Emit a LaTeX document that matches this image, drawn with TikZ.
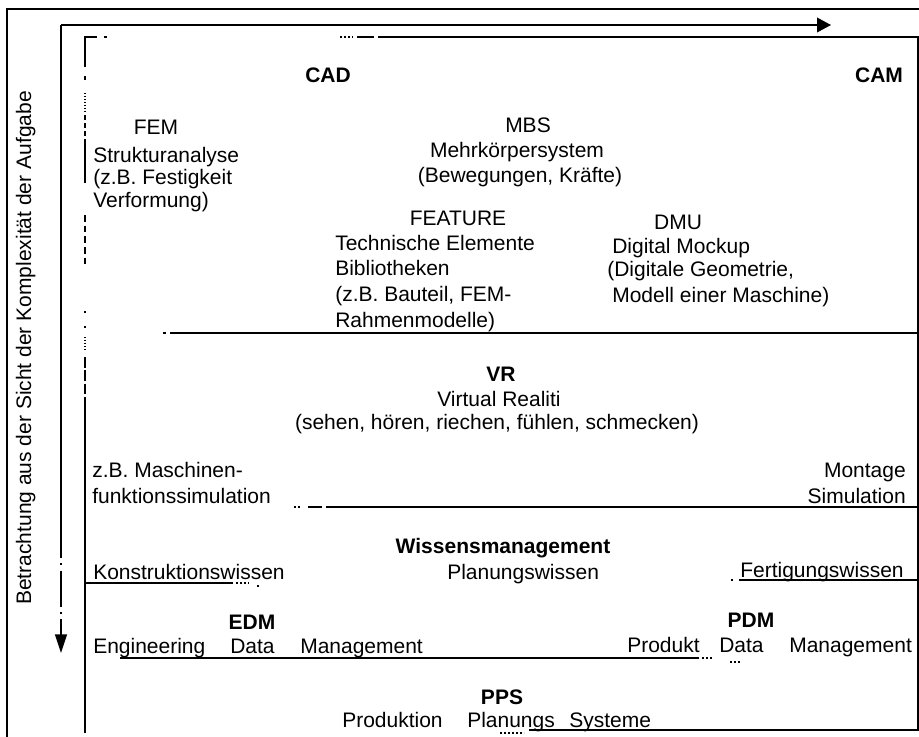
\documentclass[tikz,border=0pt]{standalone}
\usepackage{fontspec}
\setmainfont{Liberation Sans}
\usetikzlibrary{arrows.meta}
\begin{document}
\begin{tikzpicture}[x=0.75pt,y=-0.75pt,
  txt/.style={inner sep=0pt, font=\fontsize{15.75}{18}\selectfont},
  bt/.style={inner sep=0pt, font=\fontsize{15.75}{18}\selectfont\bfseries},
  ln/.style={line width=1.1pt, line cap=butt},
  speck/.style={line width=1.1pt, dash pattern=on 1.2pt off 1.8pt},
  dashdotline/.style={line width=1.1pt, dash pattern=on 27pt off 4pt on 1.5pt off 4pt}]
\useasboundingbox (0,0) rectangle (919,736);
\fill[white] (0,0) rectangle (919,736);

% outer frame
\draw[ln] (920,9) -- (7,9) -- (7,737);

% axis arrows
\coordinate (O) at (61,25);
\coordinate (Xend) at (831,25);
\coordinate (Ybreak) at (61,522);
\coordinate (Yend) at (61,653);
\draw[ln, -{Triangle[length=10.5pt,width=11pt]}] (O) -- (Xend);
\draw[ln] (O) -- (Ybreak);
\draw[dashdotline, -{Triangle[length=14pt,width=9pt]}] (Ybreak) -- (Yend);

% inner frame: top edge
\draw[ln] (85,50) -- (85,37) -- (97,37);
\draw[ln] (104,37) -- (107,37);
\draw[speck] (340,37) -- (353,37);
\draw[ln] (357,37) -- (374,37);
\draw[ln] (378,37) -- (918,37) -- (918,730) -- (529,730);
\draw[speck] (500,733) -- (524,733);
% inner frame: left edge
\draw[ln] (85,50) -- (85,67);
\draw[ln] (85,76) -- (85,80);
\draw[ln, dash pattern=on 0.8pt off 1.4pt] (85,93) -- (85,112);
\draw[ln, dash pattern=on 4pt off 2pt] (85,115) -- (85,140);
\draw[ln] (85,140) -- (85,183);
\draw[ln, dash pattern=on 5pt off 3pt] (85,215) -- (85,268);
\draw[ln] (85,311) -- (85,313);
\draw[ln] (85,326) -- (85,328);
\draw[ln, dash pattern=on 0.8pt off 1.4pt] (85,337) -- (85,351);
\draw[ln, dash pattern=on 8pt off 2pt] (85,357) -- (85,400);
\draw[ln] (85,400) -- (85,733);

% dividing lines
\draw[ln] (163,333) -- (166,333);
\draw[ln] (170,333) -- (918,333);
\draw[speck] (294,507) -- (301,507);
\draw[ln] (308,507) -- (322,507);
\draw[ln] (326,507) -- (918,507);
\draw[ln] (85,583) -- (233,583);
\draw[speck] (236,583) -- (249,583);
\draw[ln] (257,586) -- (259,586);
\draw[ln] (731,580) -- (733,580);
\draw[ln] (739,580) -- (918,580);
\draw[ln] (120,658) -- (699,658);
\draw[speck] (702,658) -- (712,658);
\draw[speck] (730,662) -- (741,662);

% side label
\node[txt, rotate=90, anchor=base] (side) at (31,348) {Betrachtung aus der Sicht der Komplexität der Aufgabe};

% top row
\node[bt, anchor=base] (cad) at (328,82) {CAD};
\node[bt, anchor=base] (cam) at (879,82) {CAM};

% FEM
\node[txt, anchor=base] (fem) at (156,134) {FEM};
\node[txt, anchor=base west] (fem1) at (93,162) {Strukturanalyse};
\node[txt, anchor=base west] (fem2) at (93,184) {(z.B. Festigkeit};
\node[txt, anchor=base west] (fem3) at (93,207) {Verformung)};

% MBS
\node[txt, anchor=base] (mbs) at (528,132) {MBS};
\node[txt, anchor=base] (mbs1) at (517,157) {Mehrkörpersystem};
\node[txt, anchor=base] (mbs2) at (520,182) {(Bewegungen, Kräfte)};

% FEATURE
\node[txt, anchor=base] (feat) at (458,225) {FEATURE};
\node[txt, anchor=base west] (feat1) at (335,250) {Technische Elemente};
\node[txt, anchor=base west] (feat2) at (335,275) {Bibliotheken};
\node[txt, anchor=base west] (feat3) at (335,301) {(z.B. Bauteil, FEM-};
\node[txt, anchor=base west] (feat4) at (335,327) {Rahmenmodelle)};

% DMU
\node[txt, anchor=base] (dmu) at (678,229) {DMU};
\node[txt, anchor=base west] (dmu1) at (612,253) {Digital Mockup};
\node[txt, anchor=base west] (dmu2) at (607,276) {(Digitale Geometrie,};
\node[txt, anchor=base west] (dmu3) at (612,302) {Modell einer Maschine)};

% VR
\node[bt, anchor=base] (vr) at (501,381) {VR};
\node[txt, anchor=base] (vr1) at (499,406) {Virtual Realiti};
\node[txt, anchor=base] (vr2) at (497,429) {(sehen, hören, riechen, fühlen, schmecken)};

% simulation row
\node[txt, anchor=base west] (sim1) at (92,477) {z.B. Maschinen-};
\node[txt, anchor=base west] (sim2) at (92,503) {funktionssimulation};
\node[txt, anchor=base east] (mon1) at (906,477) {Montage};
\node[txt, anchor=base east] (mon2) at (906,503) {Simulation};

% Wissensmanagement
\node[bt, anchor=base] (wm) at (503,553) {Wissensmanagement};
\node[txt, anchor=base west] (kw) at (93,579) {Konstruktionswissen};
\node[txt, anchor=base west] (pw) at (447,579) {Planungswissen};
\node[txt, anchor=base west] (fw) at (740,577) {Fertigungswissen};

% EDM / PDM
\node[bt, anchor=base] (edm) at (252,629) {EDM};
\node[txt, anchor=base west] (edm1) at (93,653) {Engineering};
\node[txt, anchor=base west] (edm2) at (230,653) {Data};
\node[txt, anchor=base west] (edm3) at (300,653) {Management};
\node[bt, anchor=base] (pdm) at (751,627) {PDM};
\node[txt, anchor=base west] (pdm1) at (627,652) {Produkt};
\node[txt, anchor=base west] (pdm2) at (719,652) {Data};
\node[txt, anchor=base west] (pdm3) at (789,652) {Management};

% PPS
\node[bt, anchor=base] (pps) at (502,704) {PPS};
\node[txt, anchor=base west] (pps1) at (342,727) {Produktion};
\node[txt, anchor=base west] (pps2) at (467,727) {Planungs};
\node[txt, anchor=base west] (pps3) at (569,727) {Systeme};
\end{tikzpicture}
\end{document}
